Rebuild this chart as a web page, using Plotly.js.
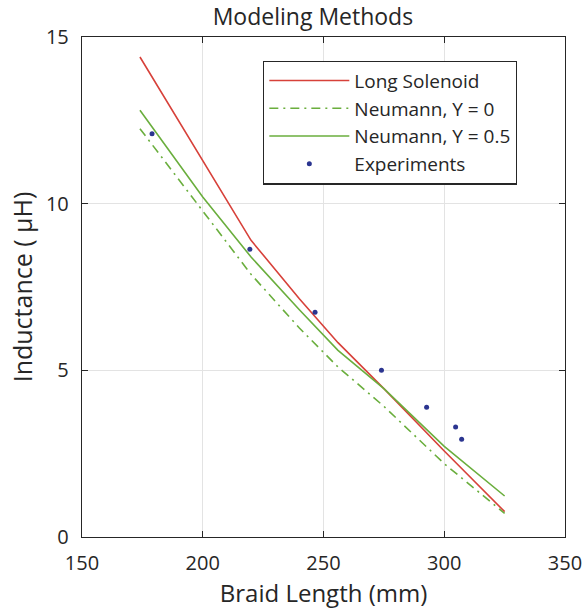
<!DOCTYPE html>
<html>
<head>
<meta charset="utf-8">
<script src="https://cdn.plot.ly/plotly-3.0.1.min.js"></script>
<style>body{margin:0;padding:0;background:#fff;} #chart{width:586px;height:610px;}</style>
</head>
<body>
<div id="chart"></div>
<script>
// Model curves (braid length in mm, inductance in µH)
const modelLength = [174, 200, 220, 240, 256, 275, 300, 325];
const longSolenoid = [14.4, 11.3, 8.9, 7.15, 5.83, 4.45, 2.58, 0.76];
const neumannY0 = [12.25, 9.8, 7.88, 6.27, 5.1, 3.92, 2.2, 0.71];
const neumannY05 = [12.8, 10.2, 8.4, 6.82, 5.6, 4.45, 2.72, 1.23];
// Experiments
const expLength = [179, 219.5, 246.5, 274, 292.7, 304.7, 307.2];
const expInductance = [12.1, 8.63, 6.74, 5.0, 3.89, 3.30, 2.93];

const names = ['Long Solenoid', 'Neumann, Y = 0', 'Neumann, Y = 0.5', 'Experiments'];
const xTicks = [150, 200, 250, 300, 350];
const yTicks = [0, 5, 10, 15];

const red = '#d7413a';
const green = '#6aae3d';
const navy = '#2b3590';
const ink = '#262626';
const font = 'Open Sans, Noto Sans, sans-serif';

const traces = [
  {x: modelLength, y: longSolenoid, name: names[0], mode: 'lines', line: {color: red, width: 1.6}},
  {x: modelLength, y: neumannY0, name: names[1], mode: 'lines', line: {color: green, width: 1.6, dash: '9px,5px,2px,5px'}},
  {x: modelLength, y: neumannY05, name: names[2], mode: 'lines', line: {color: green, width: 1.6}},
  {x: expLength, y: expInductance, name: names[3], mode: 'markers', marker: {color: navy, size: 5}}
];

const axisCommon = {
  showline: true, linecolor: ink, linewidth: 1.2, mirror: 'allticks',
  ticks: 'inside', ticklen: 6, tickcolor: ink, tickwidth: 1,
  showgrid: true, gridcolor: '#e3e3e3', gridwidth: 1.2,
  zeroline: false, tickfont: {family: font, size: 20, color: ink}
};

const layout = {
  width: 586, height: 610,
  margin: {l: 82, r: 21, t: 37, b: 73},
  paper_bgcolor: '#fff', plot_bgcolor: '#fff',
  font: {family: font, color: ink},
  title: {text: 'Modeling Methods', font: {family: font, size: 23, color: ink}, x: 0.534, xanchor: 'center', y: 0.972, yanchor: 'middle'},
  xaxis: Object.assign({}, axisCommon, {
    range: [150, 350], tickvals: xTicks, ticktext: xTicks.map(String),
    ticklabelstandoff: 8,
    title: {text: 'Braid Length (mm)', font: {family: font, size: 24, color: ink}, standoff: 2}
  }),
  yaxis: Object.assign({}, axisCommon, {
    range: [0, 15], tickvals: yTicks, ticktext: yTicks.map(String),
    ticklabelstandoff: 8,
    title: {text: 'Inductance ( μH)', font: {family: font, size: 25, color: ink}, standoff: 6}
  }),
  legend: {
    x: 0.375, y: 0.953, xanchor: 'left', yanchor: 'top',
    bgcolor: '#fff', bordercolor: ink, borderwidth: 1.2,
    font: {family: font, size: 19, color: ink},
    itemwidth: 80, tracegroupgap: 0
  },
  showlegend: true
};

Plotly.newPlot('chart', traces, layout, {displayModeBar: false, staticPlot: true});
</script>
</body>
</html>
